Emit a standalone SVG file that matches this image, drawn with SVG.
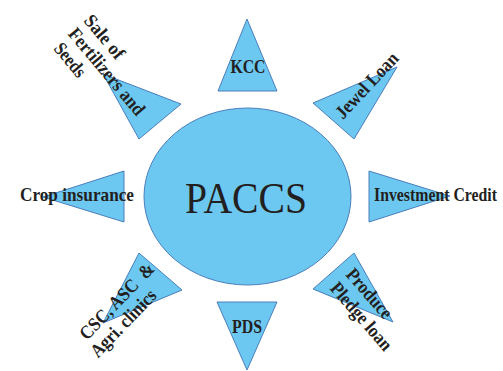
<svg xmlns="http://www.w3.org/2000/svg" width="503" height="371" viewBox="0 0 503 371">
<style>
.shape{fill:#6cc8f1;stroke:#4a7ebb;stroke-width:1}
.lbl{font-family:"Liberation Serif","Times New Roman",serif;font-weight:bold;font-size:19px;fill:#231f20}
.big{font-family:"Liberation Serif","Times New Roman",serif;font-size:45px;fill:#231f20}
</style>
<rect width="503" height="371" fill="#ffffff"/>
<g id="paccs">
<ellipse class="shape" cx="247.5" cy="196.5" rx="103.5" ry="88.5"/>
<text class="big" x="246" y="213" text-anchor="middle" textLength="122" lengthAdjust="spacingAndGlyphs">PACCS</text>
</g>
<g id="kcc">
<polygon class="shape" points="247,19 218,91 277,91"/>
<text class="lbl" x="248" y="73" text-anchor="middle" textLength="35" lengthAdjust="spacingAndGlyphs">KCC</text>
</g>
<g id="fertilizers">
<polygon class="shape" points="103,74 181,104 139,139"/>
<g transform="translate(83,21) rotate(50)">
<text class="lbl" x="0" y="0" textLength="52" lengthAdjust="spacingAndGlyphs">Sale of</text>
<text class="lbl" x="0" y="20.5" textLength="108" lengthAdjust="spacingAndGlyphs">Fertilizers and</text>
<text class="lbl" x="2" y="41" textLength="39" lengthAdjust="spacingAndGlyphs">Seeds</text>
</g>
</g>
<g id="jewel">
<polygon class="shape" points="397,67 313,103 354,139"/>
<text class="lbl" transform="translate(343,120) rotate(-47)" x="0" y="0" textLength="83" lengthAdjust="spacingAndGlyphs">Jewel Loan</text>
</g>
<g id="crop">
<polygon class="shape" points="43,197 124,171 124,222"/>
<text class="lbl" x="20" y="201" textLength="114" lengthAdjust="spacingAndGlyphs">Crop insurance</text>
</g>
<g id="investment">
<polygon class="shape" points="450,196 369,171 369,222"/>
<text class="lbl" x="374" y="201" textLength="123" lengthAdjust="spacingAndGlyphs">Investment Credit</text>
</g>
<g id="csc">
<polygon class="shape" points="139,253 182,290 103,323"/>
<g transform="translate(87,341) rotate(-46)">
<text class="lbl" x="0" y="0" xml:space="preserve" textLength="99" lengthAdjust="spacingAndGlyphs">CSC, ASC  &amp;</text>
<text class="lbl" x="-5" y="20" textLength="86" lengthAdjust="spacingAndGlyphs">Agri. clinics</text>
</g>
</g>
<g id="pds">
<polygon class="shape" points="217,302 277,302 247,370"/>
<text class="lbl" x="247" y="333" text-anchor="middle" textLength="30" lengthAdjust="spacingAndGlyphs">PDS</text>
</g>
<g id="produce">
<polygon class="shape" points="354,253 313,289 393,322"/>
<g transform="translate(345,275) rotate(49)">
<text class="lbl" x="0" y="0" textLength="60" lengthAdjust="spacingAndGlyphs">Produce</text>
<text class="lbl" x="0" y="21" textLength="84" lengthAdjust="spacingAndGlyphs">Pledge loan</text>
</g>
</g>
</svg>
